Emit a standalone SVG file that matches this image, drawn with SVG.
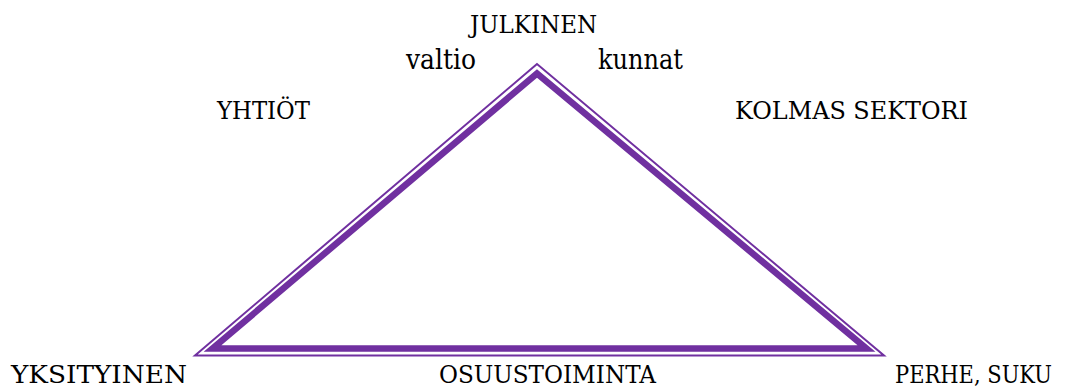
<svg xmlns="http://www.w3.org/2000/svg" width="1067" height="390" viewBox="0 0 1067 390">
<style>
text{font-family:'DejaVu Serif','Liberation Serif',serif;fill:#000}
.cap{font-size:25px}
.low{font-size:27px}
.edge{fill:none;stroke:#7030a0;stroke-linejoin:miter;stroke-miterlimit:10}
</style>
<rect width="1067" height="390" fill="#fff"/>
<g id="connectors">
<polygon class="edge" stroke-width="2" points="537,64 195,355.5 884,355.5"/>
<polygon class="edge" stroke-width="6.5" points="537,73.5 212.5,348.5 866.5,348.5"/>
</g>
<g id="julkinen"><text class="cap" x="470" y="33" textLength="127" lengthAdjust="spacingAndGlyphs">JULKINEN</text></g>
<g id="valtio"><text class="low" x="406" y="69" textLength="70" lengthAdjust="spacingAndGlyphs">valtio</text></g>
<g id="kunnat"><text class="low" x="598" y="69" textLength="85" lengthAdjust="spacingAndGlyphs">kunnat</text></g>
<g id="yhtiot"><text class="cap" x="217" y="119" textLength="93" lengthAdjust="spacingAndGlyphs">YHTIÖT</text></g>
<g id="kolmas"><text class="cap" x="735" y="119" textLength="233" lengthAdjust="spacingAndGlyphs">KOLMAS SEKTORI</text></g>
<g id="yksityinen"><text class="cap" x="11" y="383" textLength="176" lengthAdjust="spacingAndGlyphs">YKSITYINEN</text></g>
<g id="osuustoiminta"><text class="cap" x="439" y="383" textLength="217" lengthAdjust="spacingAndGlyphs">OSUUSTOIMINTA</text></g>
<g id="perhe"><text class="cap" x="895" y="383" textLength="157" lengthAdjust="spacingAndGlyphs">PERHE, SUKU</text></g>
</svg>
